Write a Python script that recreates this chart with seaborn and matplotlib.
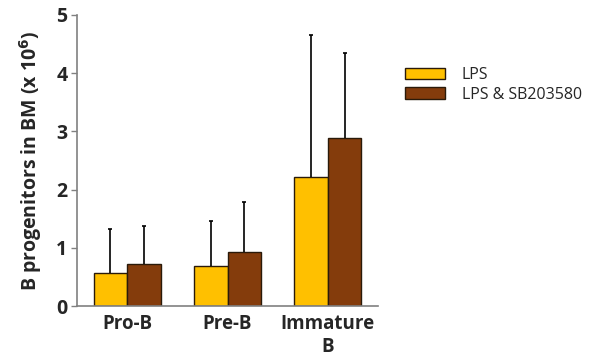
import matplotlib
matplotlib.use("Agg")
import matplotlib.pyplot as plt
import seaborn as sns
import pandas as pd
import numpy as np

categories = ["Pro-B", "Pre-B", "Immature\nB"]
series = ["LPS", "LPS & SB203580"]
lps_mean = [0.57, 0.68, 2.21]
lps_sd = [0.75, 0.78, 2.45]
sb_mean = [0.72, 0.92, 2.88]
sb_sd = [0.65, 0.87, 1.47]
colors = ["#FFC000", "#843C0C"]

sns.set_style("white")
plt.rcParams['font.family'] = ['Open Sans', 'DejaVu Sans']

df = pd.DataFrame({
    "cat": categories * 2,
    "treat": [series[0]] * 3 + [series[1]] * 3,
    "val": lps_mean + sb_mean,
})

fig = plt.figure(figsize=(5.91, 3.64), dpi=100)
ax = fig.add_axes([77/591, 58/364, 301/591, 291/364])
sns.barplot(data=df, x="cat", y="val", hue="treat", palette=colors,
            edgecolor="#2a1a0a", linewidth=1.0, width=0.67, errorbar=None,
            ax=ax, saturation=1)

for cont, sds in zip(ax.containers, [lps_sd, sb_sd]):
    xs = [p.get_x() + p.get_width() / 2 for p in cont.patches]
    hs = [p.get_height() for p in cont.patches]
    eb = ax.errorbar(xs, hs, yerr=[np.zeros(len(sds)), sds], fmt="none",
                     ecolor="black", elinewidth=1.2, capsize=1.5, capthick=1.2)
    caps = eb.lines[1]
    if len(caps) > 1:
        caps[0].set_visible(False)

ax.set_xlim(-0.5, 2.5)
ax.set_ylim(0, 5)
ax.set_yticks([0, 1, 2, 3, 4, 5])
ax.set_xlabel("")
ax.set_ylabel("B progenitors in BM (x 10$^{\\mathbf{6}}$)", fontsize=14,
              fontweight="bold", labelpad=9)
for lab in ax.get_yticklabels():
    lab.set_fontweight("bold")
    lab.set_fontsize(14)
for lab in ax.get_xticklabels():
    lab.set_fontweight("bold")
    lab.set_fontsize(13.5)
ax.tick_params(axis="y", direction="out", length=4, width=1, color="#808080", left=True, pad=3)
ax.tick_params(axis="x", length=0, pad=6)
sns.despine(ax=ax)
for s in ["left", "bottom"]:
    ax.spines[s].set_color("#808080")
    ax.spines[s].set_linewidth(1.2)

leg = ax.legend(loc="upper left", bbox_to_anchor=(405/591, (364-67)/364), bbox_transform=fig.transFigure,
                frameon=False, fontsize=11.5, handlelength=2.5, handleheight=0.75,
                labelspacing=0.22, handletextpad=1.06, borderpad=0, borderaxespad=0)
for h in leg.legend_handles:
    h.set_edgecolor("#2a1a0a")

fig.savefig("out.png", dpi=100)
